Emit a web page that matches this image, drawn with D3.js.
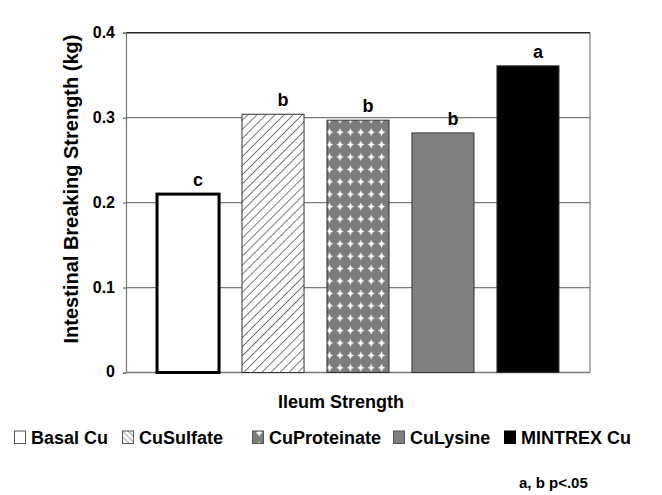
<!DOCTYPE html>
<html>
<head>
<meta charset="utf-8">
<script src="https://cdn.jsdelivr.net/npm/d3@7"></script>
<style>
    body { margin: 0; background: #fff; }
    svg { display: block; }
    text { font-family: "Liberation Sans", Arial, sans-serif; font-weight: bold; fill: #000; }
</style>
</head>
<body>
<div id="chart"></div>
<script>
const categories = ['Basal Cu', 'CuSulfate', 'CuProteinate', 'CuLysine', 'MINTREX Cu'];
const values = [0.21, 0.304, 0.297, 0.282, 0.361];
const letters = ['c', 'b', 'b', 'b', 'a'];
const yTicks = [0, 0.1, 0.2, 0.3, 0.4];
const yTickLabels = ['0', '0.1', '0.2', '0.3', '0.4'];
const yTitle = 'Intestinal Breaking Strength (kg)';
const xTitle = 'Ileum Strength';
const footnote = 'a, b  p<.05';

const width = 662, height = 495;
const plot = { left: 126, right: 590, top: 32.7, bottom: 372.5 };

const svg = d3.select('#chart').append('svg')
    .attr('width', width)
    .attr('height', height);

svg.append('rect').attr('width', width).attr('height', height).attr('fill', '#fff');

// patterns
const defs = svg.append('defs');

const hatch = defs.append('pattern')
    .attr('id', 'hatch')
    .attr('patternUnits', 'userSpaceOnUse')
    .attr('width', 6.4)
    .attr('height', 6.4)
    .attr('patternTransform', 'rotate(45)');
hatch.append('rect').attr('width', 6.4).attr('height', 6.4).attr('fill', '#fff');
hatch.append('line')
    .attr('x1', 0).attr('y1', 0).attr('x2', 0).attr('y2', 6.4)
    .attr('stroke', '#222').attr('stroke-width', 1.2);

const hatchLegend = defs.append('pattern')
    .attr('id', 'hatch-legend')
    .attr('patternUnits', 'userSpaceOnUse')
    .attr('width', 4)
    .attr('height', 4)
    .attr('patternTransform', 'rotate(-45)');
hatchLegend.append('rect').attr('width', 4).attr('height', 4).attr('fill', '#fff');
hatchLegend.append('line')
    .attr('x1', 0).attr('y1', 0).attr('x2', 0).attr('y2', 4)
    .attr('stroke', '#444').attr('stroke-width', 1);

const stars = defs.append('pattern')
    .attr('id', 'stars')
    .attr('patternUnits', 'userSpaceOnUse')
    .attr('x', 2)
    .attr('y', 2)
    .attr('width', 10.4)
    .attr('height', 12.4);
stars.append('rect').attr('width', 10.4).attr('height', 12.4).attr('fill', '#7c7c7c');
stars.append('path')
    .attr('transform', 'translate(5.2,6.2)')
    .attr('d', 'M0,-4 L1.2,-1.2 L3.6,0 L1.2,1.2 L0,4 L-1.2,1.2 L-3.6,0 L-1.2,-1.2 Z')
    .attr('fill', '#fff');

const fills = ['#fff', 'url(#hatch)', 'url(#stars)', '#808080', '#000'];
const legendFills = ['#fff', 'url(#hatch-legend)', 'url(#stars)', '#808080', '#000'];

const x = d3.scaleBand()
    .domain(categories)
    .range([plot.left, plot.right])
    .paddingInner(0.27)
    .paddingOuter(0.365);

const y = d3.scaleLinear()
    .domain([0, 0.4])
    .range([plot.bottom, plot.top]);

// gridlines
svg.append('g')
    .selectAll('line')
    .data(yTicks.filter(d => d > 0 && d < 0.4))
    .enter().append('line')
    .attr('x1', plot.left).attr('x2', plot.right)
    .attr('y1', d => y(d)).attr('y2', d => y(d))
    .attr('stroke', '#7a7a7a')
    .attr('stroke-width', 1.2);

// frame
svg.append('line')
    .attr('x1', plot.right).attr('x2', plot.right)
    .attr('y1', y(0.4)).attr('y2', y(0))
    .attr('stroke', '#7a7a7a').attr('stroke-width', 1.2);
svg.append('line')
    .attr('x1', plot.left).attr('x2', plot.right)
    .attr('y1', y(0)).attr('y2', y(0))
    .attr('stroke', '#7a7a7a').attr('stroke-width', 1.4);
svg.append('line')
    .attr('x1', plot.left).attr('x2', plot.right)
    .attr('y1', y(0.4)).attr('y2', y(0.4))
    .attr('stroke', '#222').attr('stroke-width', 1.6);

// y axis
const yAxis = svg.append('g')
    .attr('transform', `translate(${plot.left},0)`)
    .call(d3.axisLeft(y)
        .tickValues(yTicks)
        .tickSize(3)
        .tickPadding(8)
        .tickFormat((d, i) => yTickLabels[i]));
yAxis.select('.domain').attr('stroke', '#7a7a7a').attr('stroke-width', 1.2);
yAxis.selectAll('.tick line').attr('stroke', '#555');
yAxis.selectAll('.tick text')
    .attr('font-family', '"Liberation Sans", Arial, sans-serif')
    .attr('font-weight', 'bold')
    .attr('font-size', 16)
    .attr('dy', '0.28em')
    .attr('fill', '#000');

// bars
svg.append('g')
    .selectAll('rect')
    .data(categories)
    .enter().append('rect')
    .attr('x', d => x(d))
    .attr('y', (d, i) => y(values[i]))
    .attr('width', x.bandwidth())
    .attr('height', (d, i) => y(0) - y(values[i]))
    .attr('fill', (d, i) => fills[i])
    .attr('stroke', (d, i) => i === 0 ? '#000' : '#333')
    .attr('stroke-width', (d, i) => i === 0 ? 3 : 1);

// significance letters
svg.append('g')
    .selectAll('text')
    .data(categories)
    .enter().append('text')
    .attr('x', d => x(d) + x.bandwidth() / 2 + 10)
    .attr('y', (d, i) => y(values[i]) - 8)
    .attr('text-anchor', 'middle')
    .attr('font-size', 18)
    .text((d, i) => letters[i]);

// axis titles
svg.append('text')
    .attr('transform', 'translate(78,189) rotate(-90)')
    .attr('text-anchor', 'middle')
    .attr('font-size', 20)
    .text(yTitle);

svg.append('text')
    .attr('x', 341)
    .attr('y', 408)
    .attr('text-anchor', 'middle')
    .attr('font-size', 18)
    .text(xTitle);

// legend (icon left edges)
const legendX = [14, 122, 252, 393, 504];
const legend = svg.append('g').attr('transform', 'translate(0,437)');
categories.forEach((name, i) => {
    const item = legend.append('g').attr('transform', `translate(${legendX[i]},0)`);
    item.append('rect')
        .attr('x', 0.5).attr('y', -6)
        .attr('width', 11).attr('height', 12.5)
        .attr('fill', legendFills[i])
        .attr('stroke', i === 4 ? '#000' : '#555')
        .attr('stroke-width', 1);
    item.append('text')
        .attr('x', 17)
        .attr('y', 6.5)
        .attr('font-size', 18)
        .text(name);
});

svg.append('text')
    .attr('x', 519)
    .attr('y', 488)
    .attr('font-size', 15)
    .text(footnote);
</script>
</body>
</html>
